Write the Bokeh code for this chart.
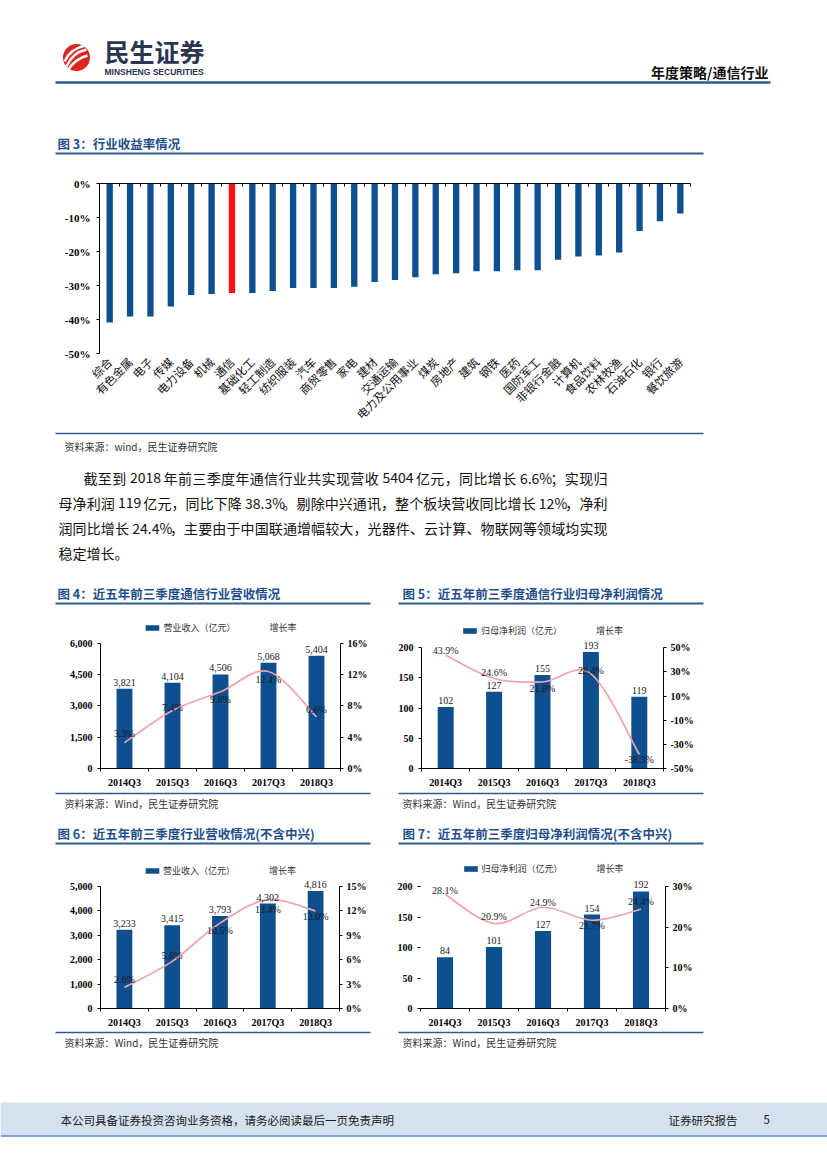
import math
from bokeh.plotting import figure
from bokeh.layouts import column, row
from bokeh.models import (Range1d, LinearAxis, FixedTicker, PrintfTickFormatter,
                          NumeralTickFormatter, Legend, LegendItem)
from bokeh.core.properties import value
from bokeh.embed import file_html
from bokeh.resources import INLINE

# ---------------- data ----------------
cats3 = ["综合", "有色金属", "电子", "传媒", "电力设备", "机械", "通信", "基础化工", "轻工制造",
         "纺织服装", "汽车", "商贸零售", "家电", "建材", "交通运输", "电力及公用事业", "煤炭",
         "房地产", "建筑", "钢铁", "医药", "国防军工", "非银行金融", "计算机", "食品饮料",
         "农林牧渔", "石油石化", "银行", "餐饮旅游"]
ret3 = [-40.9, -39.1, -39.1, -36.2, -32.8, -32.5, -32.2, -32.2, -31.6, -30.7, -30.7, -30.7,
        -30.4, -29.0, -28.4, -27.6, -26.7, -26.4, -25.8, -25.8, -25.5, -25.5, -22.4, -21.5,
        -21.2, -20.3, -14.0, -11.1, -8.8]
ticks3 = [-50, -40, -30, -20, -10, 0]
highlight3 = "通信"

periods = ["2014Q3", "2015Q3", "2016Q3", "2017Q3", "2018Q3"]
rev4 = [3821, 4104, 4506, 5068, 5404]
g4 = [3.3, 7.4, 9.8, 12.4, 6.6]
np5 = [102, 127, 155, 193, 119]
g5 = [43.9, 24.6, 21.8, 28.4, -38.3]
rev6 = [3233, 3415, 3793, 4302, 4816]
g6 = [2.6, 5.8, 10.5, 13.4, 12.0]
np7 = [84, 101, 127, 154, 192]
g7 = [28.1, 20.9, 24.9, 21.7, 24.4]

ticks_rev4 = [0, 1500, 3000, 4500, 6000]
ticks_g4 = [0, 4, 8, 12, 16]
ticks_np5 = [0, 50, 100, 150, 200]
ticks_g5 = [-50, -30, -10, 10, 30, 50]
ticks_rev6 = [0, 1000, 2000, 3000, 4000, 5000]
ticks_g6 = [0, 3, 6, 9, 12, 15]
ticks_np7 = [0, 50, 100, 150, 200]
ticks_g7 = [0, 10, 20, 30]

# ---------------- styles ----------------
BLUE = "#0e4f8f"
RED = "#ff1010"
PINK = "#f2a2aa"
RULE = "#2c5a97"
TITLE_C = "#1f4e8d"
SERIF = "Liberation Serif"
CJK = "Noto Sans CJK SC"


def base_fig(W, H, **kw):
    p = figure(width=W, height=H, toolbar_location=None, output_backend="svg",
               x_axis_type=None, y_axis_type=None, title=None, **kw)
    p.outline_line_color = None
    p.background_fill_color = "white"
    p.border_fill_color = "white"
    p.frame_align = False
    return p


def deco(x0, top, W, H):
    return base_fig(W, H, x_range=Range1d(x0, x0 + W), y_range=Range1d(top + H, top),
                    min_border=0, min_border_left=0, min_border_right=0,
                    min_border_top=0, min_border_bottom=0)


def txt(p, x, y, s, size, color="#1a1a1a", bold=False, align="left", font=CJK):
    p.text(x=[x], y=[y], text=[s], text_font=value(font), text_font_size=size,
           text_font_style="bold" if bold else "normal", text_color=color,
           text_align=align, text_baseline="middle")


def rule(p, xa, xb, y, w=1.5, color=RULE):
    p.segment(x0=[xa], y0=[y], x1=[xb], y1=[y], line_color=color, line_width=w)


def justified(p, xa, xb, y, s, fs, color="#111111"):
    """Place a line of mixed CJK/Latin text spread between xa and xb (justified)."""
    toks, buf = [], ""
    for ch in s:
        if ord(ch) < 128 and ch != " ":
            buf += ch
        else:
            if buf:
                toks.append(buf)
                buf = ""
            toks.append(ch)
    if buf:
        toks.append(buf)
    cw = {"%": 0.83, ".": 0.26, " ": 0.22}

    def width(t):
        if len(t) == 1 and ord(t) >= 128:
            return fs
        return sum(cw.get(c, 0.53) for c in t) * fs

    widths = [width(t) for t in toks]
    natural = sum(widths)
    gap = 0.0 if xb is None else (xb - xa - natural) / max(len(toks) - 1, 1)
    xs, ts = [], []
    x = xa
    for t, w in zip(toks, widths):
        if t != " ":
            xs.append(x)
            ts.append(t)
        x += w + gap
    p.text(x=xs, y=[y] * len(xs), text=ts, text_font=value(CJK), text_font_size=f"{fs}px",
           text_color=color, text_align="left", text_baseline="middle")


def smooth(p, xs, ys, **kw):
    n = len(xs)
    X0, Y0, X1, Y1, CX0, CY0, CX1, CY1 = [], [], [], [], [], [], [], []
    for i in range(n - 1):
        im = max(i - 1, 0)
        i2 = min(i + 2, n - 1)
        X0.append(xs[i]); Y0.append(ys[i]); X1.append(xs[i + 1]); Y1.append(ys[i + 1])
        CX0.append(xs[i] + (xs[i + 1] - xs[im]) / 6.0)
        CY0.append(ys[i] + (ys[i + 1] - ys[im]) / 6.0)
        CX1.append(xs[i + 1] - (xs[i2] - xs[i]) / 6.0)
        CY1.append(ys[i + 1] - (ys[i2] - ys[i]) / 6.0)
    return p.bezier(x0=X0, y0=Y0, x1=X1, y1=Y1, cx0=CX0, cy0=CY0, cx1=CX1, cy1=CY1, **kw)


PAGE_W = 827

# ---------------- header ----------------
hdr = deco(0, 0, PAGE_W, 165)
hdr.circle(x=[76], y=[57], radius=13.5, fill_color="#d9271e", line_color=None)
hdr.quadratic(x0=[66, 64, 67], y0=[66, 61, 70], x1=[86, 85, 87], y1=[49, 45, 55],
              cx=[72, 70, 75], cy=[52, 48, 58], line_color="white", line_width=2.4)
txt(hdr, 104, 50, "民生证券", "25px", color="#2b3450", bold=True)
txt(hdr, 104, 71, "MINSHENG SECURITIES", "8.5px", color="#2b3450", bold=True,
    font="Liberation Sans")
txt(hdr, 768, 71, "年度策略/通信行业", "14px", color="#111111", bold=True, align="right")
rule(hdr, 55, 770, 82, w=2.5)
txt(hdr, 57, 143, "图 3：行业收益率情况", "12.5px", color=TITLE_C, bold=True)
rule(hdr, 55, 703, 153, w=2)

# ---------------- chart 3 ----------------
n3 = len(cats3)
x3 = list(range(n3))
p3 = base_fig(PAGE_W, 265, x_range=Range1d(-0.5, n3 - 0.5), y_range=Range1d(ticks3[0], ticks3[-1]),
              min_border=0, min_border_left=99, min_border_right=PAGE_W - 99 - 591,
              min_border_top=18, min_border_bottom=75)
colors3 = [RED if c == highlight3 else BLUE for c in cats3]
p3.vbar(x=x3, top=ret3, bottom=0, width=0.31, fill_color=colors3, line_color=None)
ya3 = LinearAxis(ticker=FixedTicker(ticks=ticks3), formatter=PrintfTickFormatter(format="%d%%"),
                 major_tick_out=3, major_tick_in=0, minor_tick_out=0, minor_tick_in=0,
                 axis_line_color="black", major_label_standoff=6,
                 major_label_text_font=SERIF, major_label_text_font_style="bold",
                 major_label_text_font_size="11px", major_label_text_color="black")
p3.add_layout(ya3, "left")
xa3 = LinearAxis(ticker=FixedTicker(ticks=x3),
                 major_label_overrides={i: c for i, c in enumerate(cats3)},
                 major_label_orientation=math.pi / 4,
                 major_tick_out=0, major_tick_in=0, minor_tick_out=0, minor_tick_in=0,
                 axis_line_color=None, major_label_standoff=6,
                 major_label_text_font=CJK, major_label_text_font_size="11.5px",
                 major_label_text_color="#111111")
p3.add_layout(xa3, "below")
ta3 = LinearAxis(ticker=FixedTicker(ticks=[], minor_ticks=[i - 0.5 for i in range(n3 + 1)]),
                 major_tick_out=0, major_tick_in=0, minor_tick_out=0, minor_tick_in=3,
                 axis_line_color="black", major_label_text_font_size="0px",
                 major_label_standoff=0)
p3.add_layout(ta3, "above")

# ---------------- mid text ----------------
mid = deco(0, 430, PAGE_W, 145)
rule(mid, 55, 703, 433, w=1.5)
txt(mid, 64, 446, "资料来源：wind，民生证券研究院", "10px", color="#333333")
para = ["截至到 2018 年前三季度年通信行业共实现营收 5404 亿元，同比增长 6.6%；实现归",
        "母净利润 119 亿元，同比下降 38.3%。剔除中兴通讯，整个板块营收同比增长 12%，净利",
        "润同比增长 24.4%，主要由于中国联通增幅较大，光器件、云计算、物联网等领域均实现",
        "稳定增长。"]
for i, line in enumerate(para):
    last = i == len(para) - 1
    justified(mid, 83 if i == 0 else 58, None if last else 607, 477 + 25.3 * i, line, 14)


# ---------------- small charts ----------------
def small_chart(x0, top, W, H, fl, fr, at, ab, cats, bars, bar_ticks, bar_fmt,
                growth, g_ticks, leg_labels, leg_cy, dys, left_line=True):
    lo, hi = bar_ticks[0], bar_ticks[-1]
    glo, ghi = g_ticks[0], g_ticks[-1]
    k = (ab - top) / float(ab - at)
    n = len(cats)
    xs = list(range(n))
    p = base_fig(W, H, x_range=Range1d(-0.5, n - 0.5), y_range=Range1d(lo, lo + (hi - lo) * k),
                 min_border=0, min_border_left=fl - x0, min_border_right=x0 + W - fr,
                 min_border_top=0, min_border_bottom=top + H - ab)
    p.extra_y_ranges = {"g": Range1d(glo, glo + (ghi - glo) * k)}
    r_bar = p.vbar(x=xs, top=bars, bottom=0, width=0.33, fill_color=BLUE, line_color=None)
    smooth(p, xs, growth, line_color=PINK, line_width=1.7, y_range_name="g")
    r_line = p.line(x=[], y=[], line_color=PINK, line_width=1.7, y_range_name="g")
    p.text(x=xs, y=bars, text=[f"{v:,}" for v in bars], text_font=value(SERIF),
           text_font_size="10px", text_color="#1a1a1a", text_align="center",
           text_baseline="bottom", y_offset=-3)
    p.text(x=xs, y=growth, text=[f"{g:.1f}%" for g in growth], text_font=value(SERIF),
           text_font_size="10px", text_color="#1a1a1a", text_align="center",
           text_baseline="middle", y_offset=dys, y_range_name="g")
    common = dict(major_label_text_font=SERIF, major_label_text_font_style="bold",
                  major_label_text_font_size="10px", major_label_text_color="black")
    xa = LinearAxis(ticker=FixedTicker(ticks=xs, minor_ticks=[i - 0.5 for i in range(n + 1)]),
                    major_label_overrides={i: c for i, c in enumerate(cats)},
                    major_tick_out=0, major_tick_in=0, minor_tick_out=3, minor_tick_in=0,
                    axis_line_color="black", major_label_standoff=5, **common)
    p.add_layout(xa, "below")
    ya = LinearAxis(ticker=FixedTicker(ticks=bar_ticks), formatter=bar_fmt, bounds=(lo, hi),
                    major_tick_out=3, major_tick_in=0, minor_tick_out=0, minor_tick_in=0,
                    axis_line_color="black" if left_line else None,
                    major_label_standoff=5, **common)
    p.add_layout(ya, "left")
    yr = LinearAxis(y_range_name="g", ticker=FixedTicker(ticks=g_ticks),
                    formatter=PrintfTickFormatter(format="%d%%"), bounds=(glo, ghi),
                    major_tick_out=3, major_tick_in=0, minor_tick_out=0, minor_tick_in=0,
                    axis_line_color="black", major_label_standoff=4, **common)
    p.add_layout(yr, "right")
    leg = Legend(items=[LegendItem(label=leg_labels[0], renderers=[r_bar]),
                        LegendItem(label=leg_labels[1], renderers=[r_line])],
                 location="top_center", orientation="horizontal",
                 margin=int(leg_cy - top - 6), padding=0, spacing=14,
                 glyph_width=17, glyph_height=7, label_height=10, label_standoff=3,
                 label_text_font=CJK, label_text_font_size="9px", label_text_color="#333333",
                 border_line_alpha=0, background_fill_alpha=0)
    p.add_layout(leg)
    return p


def title_fig(x0, top, W, H, tx, ty, text, ra, rb, ry):
    t = deco(x0, top, W, H)
    txt(t, tx, ty, text, "12.5px", color=TITLE_C, bold=True)
    rule(t, ra, rb, ry, w=2)
    return t


def source_fig(x0, top, W, H, tx, ty, ra, rb, ry):
    s = deco(x0, top, W, H)
    rule(s, ra, rb, ry, w=1.5)
    txt(s, tx, ty, "资料来源：Wind，民生证券研究院", "10px", color="#333333")
    return s


comma = NumeralTickFormatter(format="0,0")
plain = NumeralTickFormatter(format="0")
LW, RW = 388, PAGE_W - 388

t4 = title_fig(0, 575, LW, 37, 57, 593, "图 4：近五年前三季度通信行业营收情况", 55, 370, 603)
c4 = small_chart(0, 612, LW, 178, 100, 340, 643, 769, periods, rev4, ticks_rev4, comma,
                 g4, ticks_g4, ["营业收入（亿元）", "增长率"], 627, [-9, -3, 8, 8, -7])
s4 = source_fig(0, 790, LW, 25, 64, 803, 55, 370, 793)

t5 = title_fig(388, 575, RW, 37, 402, 593, "图 5：近五年前三季度通信行业归母净利润情况", 398, 703, 603)
c5 = small_chart(388, 612, RW, 178, 421, 663, 648, 771, periods, np5, ticks_np5, plain,
                 g5, ticks_g5, ["归母净利润（亿元）", "增长率"], 630, [-5, -6, 7, -3, 5])
s5 = source_fig(388, 790, RW, 25, 402, 803, 398, 703, 793)

t6 = title_fig(0, 815, LW, 35, 57, 833, "图 6：近五年前三季度行业营收情况(不含中兴)", 55, 370, 843)
c6 = small_chart(0, 850, LW, 180, 100, 339, 887, 1012, periods, rev6, ticks_rev6, comma,
                 g6, ticks_g6, ["营业收入（亿元）", "增长率"], 870, [-8, -6, 7, 10, 6])
s6 = source_fig(0, 1030, LW, 25, 64, 1042, 55, 370, 1032)

t7 = title_fig(388, 815, RW, 35, 402, 833, "图 7：近五年前三季度归母净利润情况(不含中兴)", 398, 703, 843)
c7 = small_chart(388, 850, RW, 180, 420, 665, 886, 1008, periods, np7, ticks_np7, plain,
                 g7, ticks_g7, ["归母净利润（亿元）", "增长率"], 868, [-4, -7, -5, 5, -8],
                 left_line=False)
s7 = source_fig(388, 1030, RW, 25, 402, 1042, 398, 703, 1032)

# ---------------- footer ----------------
ft = deco(0, 1055, PAGE_W, 114)
ft.quad(left=[0], right=[PAGE_W], top=[1102], bottom=[1135], fill_color="#d5e1ef", line_color=None)
rule(ft, 0, PAGE_W, 1135.5, w=1.5, color="#5b8ccc")
txt(ft, 60, 1119, "本公司具备证券投资咨询业务资格，请务必阅读最后一页免责声明", "11.5px")
txt(ft, 668, 1119, "证券研究报告", "11.5px")
txt(ft, 763, 1119, "5", "11.5px")

layout = column(hdr, p3, mid,
                row(column(t4, c4, s4), column(t5, c5, s5)),
                row(column(t6, c6, s6), column(t7, c7, s7)),
                ft)

open("out.html", "w").write(file_html(layout, INLINE))
